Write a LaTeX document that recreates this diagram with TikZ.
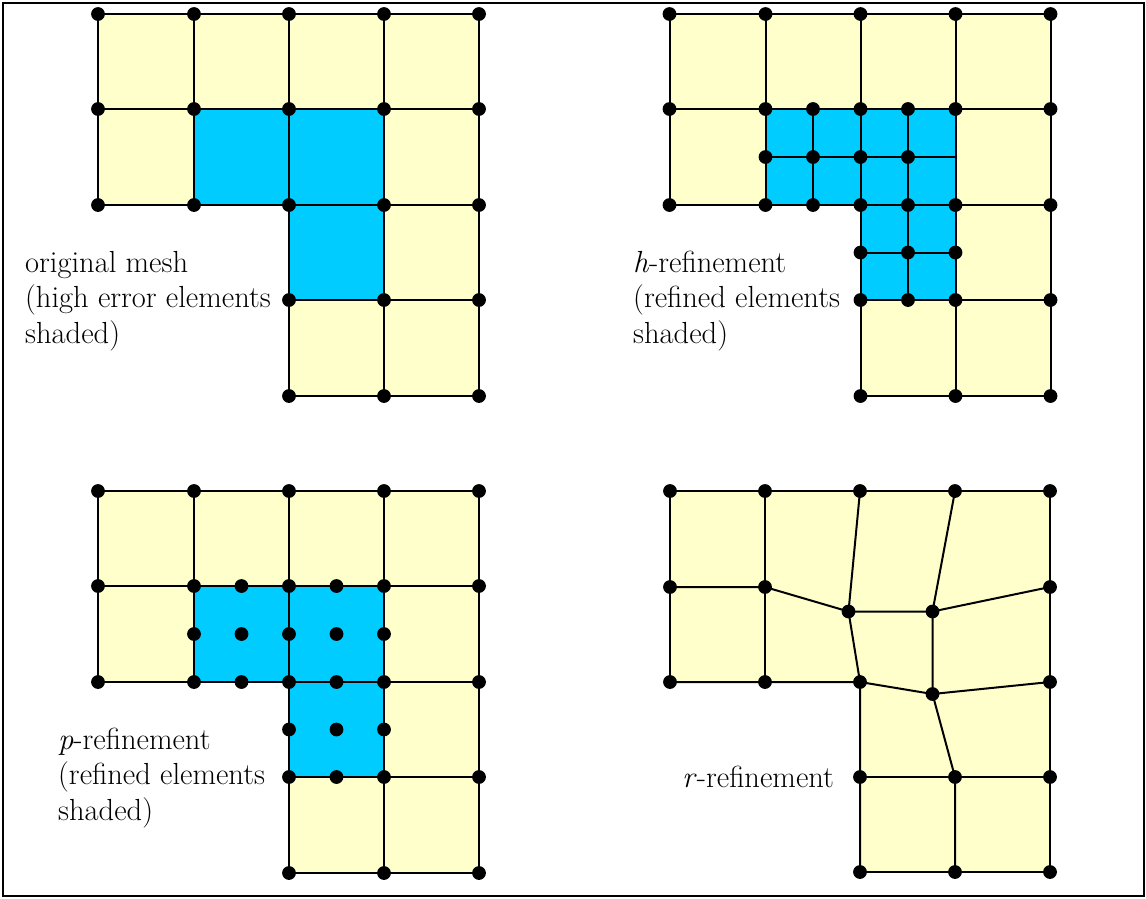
\documentclass[tikz,border=0pt]{standalone}
\usepackage{fontspec}
\definecolor{meshyellow}{HTML}{FFFFCC}
\definecolor{meshblue}{HTML}{00CCFF}
\newcommand\meshbasefill{%
  \fill[meshyellow] (98,14) -- (479,14) -- (479,396) -- (289,396) -- (289,205) -- (98,205) -- cycle;}
\newcommand\meshbluefill{%
  \fill[meshblue] (194,109) rectangle (384,205);
  \fill[meshblue] (289,205) rectangle (384,300);}
\newcommand\meshgridlines{%
  \foreach \yy in {14,109,205} {\draw[mesh] (98,\yy) -- (479,\yy);}
  \foreach \yy in {300,396} {\draw[mesh] (289,\yy) -- (479,\yy);}
  \foreach \xx in {98,194} {\draw[mesh] (\xx,14) -- (\xx,205);}
  \foreach \xx in {289,384,479} {\draw[mesh] (\xx,14) -- (\xx,396);}}
\newcommand\meshgriddots{%
  \foreach \yy in {14,109,205} {\foreach \xx in {98,194,289,384,479} {\fill (\xx,\yy) circle (6.9pt);}}
  \foreach \yy in {300,396} {\foreach \xx in {289,384,479} {\fill (\xx,\yy) circle (6.9pt);}}}
\begin{document}
\begin{tikzpicture}[x=1pt,y=-1pt,
  mesh/.style={line width=2pt, line cap=round, line join=round},
  lbl/.style={anchor=base west, inner sep=0pt, font=\fontsize{30.5}{36}\selectfont},
  frame/.style={line width=2pt}]
\useasboundingbox (0,0) rectangle (1146,898);
\draw[frame] (2.5,2.5) rectangle (1144,896);

% ---------- original mesh ----------
\begin{scope}
  \meshbasefill
  \meshbluefill
  \meshgridlines
  \meshgriddots
\end{scope}
\node[lbl] (t1a) at (25,272) {original mesh};
\node[lbl] (t1b) at (25,307.5) {(high error elements};
\node[lbl] (t1c) at (25,343) {shaded)};

% ---------- h-refinement ----------
\begin{scope}[shift={(571.5,0)}]
  \meshbasefill
  \meshbluefill
  \meshgridlines
  \draw[mesh] (241.5,109) -- (241.5,205);
  \draw[mesh] (336.5,109) -- (336.5,300);
  \draw[mesh] (194,157) -- (384,157);
  \draw[mesh] (289,252.5) -- (384,252.5);
  \meshgriddots
  \foreach \p in {(241.5,109),(336.5,109),(194,157),(241.5,157),(289,157),(336.5,157),
                  (241.5,205),(336.5,205),(289,252.5),(336.5,252.5),(384,252.5),(336.5,300)}
    {\fill \p circle (6.9pt);}
\end{scope}
\node[lbl] (t2a) at (633,272) {\textit{h}-refinement};
\node[lbl] (t2b) at (633,307.5) {(refined elements};
\node[lbl] (t2c) at (633,343) {shaded)};

% ---------- p-refinement ----------
\begin{scope}[shift={(0,477)}]
  \meshbasefill
  \meshbluefill
  \meshgridlines
  \meshgriddots
  \foreach \p in {(241.5,109),(194,157),(241.5,157),(289,157),(241.5,205),
                  (336.5,109),(336.5,157),(384,157),(336.5,205),
                  (289,252.5),(336.5,252.5),(384,252.5),(336.5,300)}
    {\fill \p circle (6.9pt);}
\end{scope}
\node[lbl] (t3a) at (58,749) {\textit{p}-refinement};
\node[lbl] (t3b) at (58,784.5) {(refined elements};
\node[lbl] (t3c) at (58,820) {shaded)};

% ---------- r-refinement ----------
\coordinate (a1) at (670,491); \coordinate (a2) at (765,491); \coordinate (a3) at (860,491);
\coordinate (a4) at (955,491); \coordinate (a5) at (1050,491);
\coordinate (b1) at (670,587); \coordinate (b2) at (765,587); \coordinate (b3) at (848.5,611.5);
\coordinate (b4) at (932.5,611.5); \coordinate (b5) at (1050,587);
\coordinate (c1) at (670,682); \coordinate (c2) at (765,682); \coordinate (c3) at (860,682);
\coordinate (c4) at (932.5,694); \coordinate (c5) at (1050,682);
\coordinate (d3) at (860,777); \coordinate (d4) at (955,777); \coordinate (d5) at (1050,777);
\coordinate (e3) at (860,872); \coordinate (e4) at (955,872); \coordinate (e5) at (1050,872);
\fill[meshyellow] (a1) -- (a5) -- (e5) -- (e3) -- (c3) -- (c1) -- cycle;
\draw[mesh] (a1) -- (a2) -- (a3) -- (a4) -- (a5);
\draw[mesh] (b1) -- (b2) -- (b3) -- (b4) -- (b5);
\draw[mesh] (c1) -- (c2) -- (c3) -- (c4) -- (c5);
\draw[mesh] (d3) -- (d4) -- (d5);
\draw[mesh] (e3) -- (e4) -- (e5);
\draw[mesh] (a1) -- (b1) -- (c1);
\draw[mesh] (a2) -- (b2) -- (c2);
\draw[mesh] (a3) -- (b3) -- (c3) -- (d3) -- (e3);
\draw[mesh] (a4) -- (b4) -- (c4) -- (d4) -- (e4);
\draw[mesh] (a5) -- (b5) -- (c5) -- (d5) -- (e5);
\foreach \c in {a1,a2,a3,a4,a5,b1,b2,b3,b4,b5,c1,c2,c3,c4,c5,d3,d4,d5,e3,e4,e5}
  {\fill (\c) circle (6.9pt);}
\node[lbl] (t4a) at (682,787) {\textit{r}-refinement};
\end{tikzpicture}
\end{document}
